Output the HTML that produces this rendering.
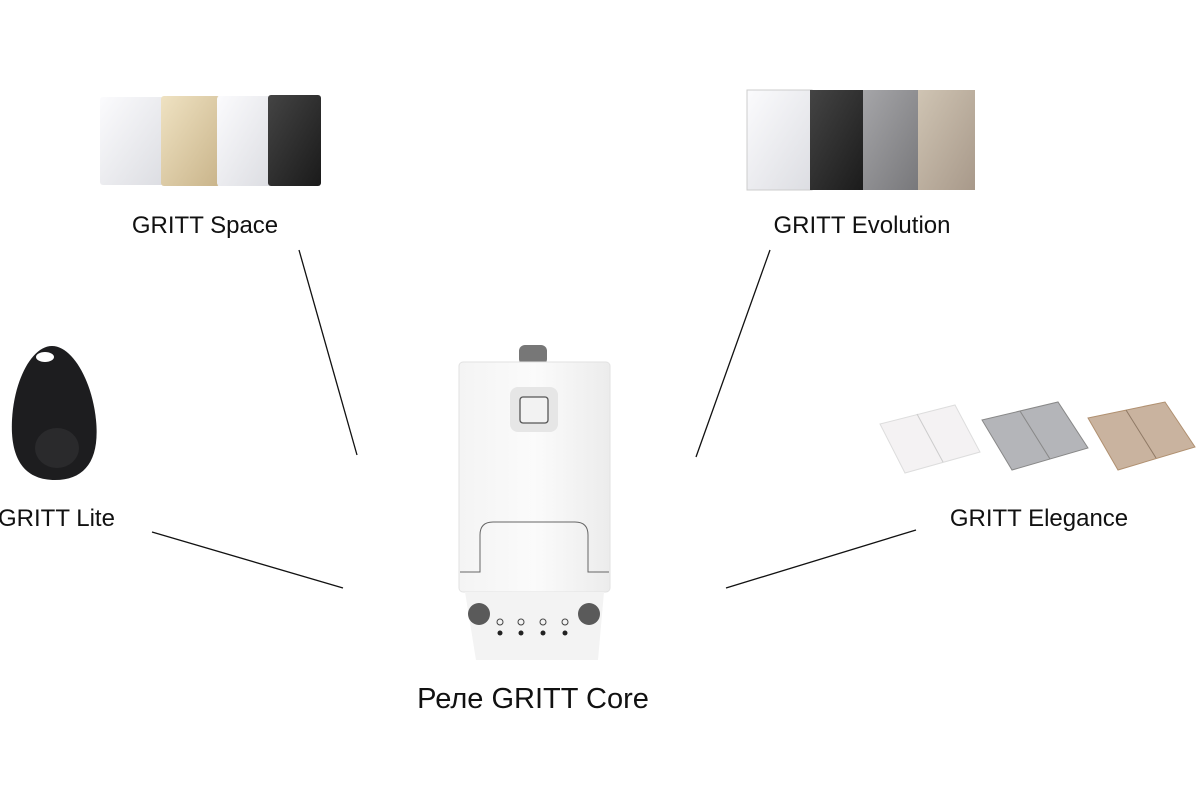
<!DOCTYPE html>
<html><head><meta charset="utf-8"><style>
html,body{margin:0;padding:0;background:#fff;}
svg{display:block}
text{font-family:"Liberation Sans",Arial,sans-serif;fill:#111}
</style></head><body>
<svg width="1200" height="800" viewBox="0 0 1200 800">
<defs>
<linearGradient id="wh" x1="0" y1="0" x2="1" y2="1"><stop offset="0" stop-color="#fbfbfd"/><stop offset="1" stop-color="#dcdde2"/></linearGradient>
<linearGradient id="gd" x1="0" y1="0" x2="1" y2="1"><stop offset="0" stop-color="#efe2c2"/><stop offset="1" stop-color="#c9b48a"/></linearGradient>
<linearGradient id="bk" x1="0" y1="0" x2="1" y2="1"><stop offset="0" stop-color="#444"/><stop offset="1" stop-color="#1a1a1a"/></linearGradient>
<linearGradient id="gr" x1="0" y1="0" x2="1" y2="1"><stop offset="0" stop-color="#a5a5a8"/><stop offset="1" stop-color="#77777a"/></linearGradient>
<linearGradient id="ch" x1="0" y1="0" x2="1" y2="1"><stop offset="0" stop-color="#cfc4b3"/><stop offset="1" stop-color="#a8998a"/></linearGradient>
<linearGradient id="dev" x1="0" y1="0" x2="1" y2="0"><stop offset="0" stop-color="#f4f4f4"/><stop offset="0.5" stop-color="#fbfbfb"/><stop offset="1" stop-color="#ececec"/></linearGradient>
</defs>
<!-- GRITT Space -->
<rect x="100" y="97" width="64" height="88" rx="3" fill="url(#wh)"/>
<rect x="161" y="96" width="59" height="90" rx="3" fill="url(#gd)"/>
<rect x="217" y="96" width="54" height="90" rx="3" fill="url(#wh)"/>
<rect x="268" y="95" width="53" height="91" rx="3" fill="url(#bk)"/>
<text x="205" y="233" font-size="24" text-anchor="middle">GRITT Space</text>
<!-- GRITT Evolution -->
<rect x="747" y="90" width="65" height="100" fill="url(#wh)" stroke="#ccc"/>
<rect x="810" y="90" width="56" height="100" fill="url(#bk)"/>
<rect x="863" y="90" width="58" height="100" fill="url(#gr)"/>
<rect x="918" y="90" width="57" height="100" fill="url(#ch)"/>
<text x="862" y="233" font-size="24" text-anchor="middle">GRITT Evolution</text>
<!-- Lite keyfob -->
<path d="M52 346 C72 346 92 380 96 420 C100 460 85 480 55 480 C25 480 10 460 12 420 C14 380 32 346 52 346 Z" fill="#1d1d1f"/>
<ellipse cx="45" cy="357" rx="9" ry="5" fill="#fff"/>
<ellipse cx="57" cy="448" rx="22" ry="20" fill="#2a2a2c"/>
<text x="-2" y="526" font-size="24">GRITT Lite</text>
<!-- Elegance -->
<polygon points="880,424 955,405 980,452 905,473" fill="#f4f2f3" stroke="#ddd"/>
<line x1="917" y1="414" x2="943" y2="462" stroke="#ccc"/>
<polygon points="982,420 1058,402 1088,448 1012,470" fill="#b4b5b9" stroke="#888"/>
<line x1="1020" y1="411" x2="1050" y2="459" stroke="#888"/>
<polygon points="1088,418 1165,402 1195,447 1118,470" fill="#c9b39f" stroke="#b09070"/>
<line x1="1126" y1="410" x2="1156" y2="458" stroke="#8f7a66"/>
<text x="1039" y="526" font-size="24" text-anchor="middle">GRITT Elegance</text>
<!-- lines -->
<g stroke="#111" stroke-width="1.3">
<line x1="299" y1="250" x2="357" y2="455"/>
<line x1="770" y1="250" x2="696" y2="457"/>
<line x1="152" y1="532" x2="343" y2="588"/>
<line x1="916" y1="530" x2="726" y2="588"/>
</g>
<!-- device -->
<rect x="519" y="345" width="28" height="20" rx="6" fill="#777"/>
<rect x="459" y="362" width="151" height="230" rx="4" fill="url(#dev)" stroke="#e2e2e2"/>
<rect x="510" y="387" width="48" height="45" rx="8" fill="#e6e6e6"/>
<rect x="520" y="397" width="28" height="26" rx="3" fill="#f2f2f2" stroke="#555" stroke-width="1.3"/>
<path d="M460 572 L480 572 L480 535 Q480 522 493 522 L575 522 Q588 522 588 535 L588 572 L609 572" fill="none" stroke="#666" stroke-width="1"/>
<path d="M465 592 L604 592 L598 660 L476 660 Z" fill="#f3f3f3"/>
<circle cx="479" cy="614" r="11" fill="#5a5a5a"/>
<circle cx="589" cy="614" r="11" fill="#5a5a5a"/>
<g fill="#222"><circle cx="500" cy="633" r="2.5"/><circle cx="521" cy="633" r="2.5"/><circle cx="543" cy="633" r="2.5"/><circle cx="565" cy="633" r="2.5"/></g>
<g fill="none" stroke="#444"><circle cx="500" cy="622" r="3"/><circle cx="521" cy="622" r="3"/><circle cx="543" cy="622" r="3"/><circle cx="565" cy="622" r="3"/></g>
<text x="533" y="708" font-size="29" text-anchor="middle">Реле GRITT Core</text>
</svg>
</body></html>
